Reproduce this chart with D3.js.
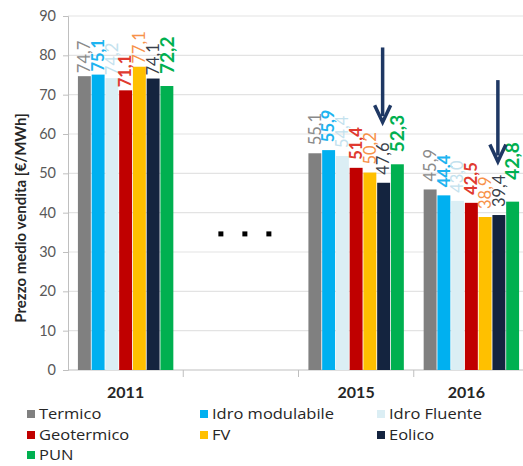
<!DOCTYPE html>
<html>
<head>
<meta charset="utf-8">
<script src="https://cdn.jsdelivr.net/npm/d3@7"></script>
<style>
  html, body { margin: 0; padding: 0; background: #fff; }
  svg { display: block; font-family: Lato, "Open Sans", sans-serif; }
</style>
</head>
<body>
<svg id="chart" width="523" height="466"></svg>
<script>
// ---- data ----
const categories = ["2011", "gap", "2015", "2016"];
const series = ["Termico", "Idro modulabile", "Idro Fluente", "Geotermico", "FV", "Eolico", "PUN"];
const termico        = [74.7, null, 55.1, 45.9];
const idroModulabile = [75.1, null, 55.9, 44.4];
const idroFluente    = [74.2, null, 54.4, 43.0];
const geotermico     = [71.1, null, 51.4, 42.5];
const fv             = [77.1, null, 50.2, 38.9];
const eolico         = [74.1, null, 47.6, 39.4];
const pun            = [72.2, null, 52.3, 42.8];
const yTicks = [0, 10, 20, 30, 40, 50, 60, 70, 80, 90];
// arrows: [category, from value, to value] pointing at Eolico bars
const arrowCats = ["2015", "2016"];
const arrowFrom = [82, 73.7];
const arrowTo   = [63, 53];

const values = [termico, idroModulabile, idroFluente, geotermico, fv, eolico, pun];
const barColors   = ["#808080", "#00b0f0", "#dbeef4", "#c00000", "#ffc000", "#14243f", "#00b050"];
const labelColors = ["#8a8a8a", "#1eb4f0", "#c4e2ee", "#e03a30", "#f7924a", "#3a3f4a", "#00b050"];
const labelWeights = ["normal", "bold", "normal", "bold", "normal", "normal", "bold"];

const svg = d3.select("#chart");
const m = { left: 68, top: 16, bottom: 370, right: 529 };

const x0 = d3.scaleBand().domain(categories).range([m.left, m.right]).padding(0);
const x1 = d3.scaleBand().domain(series).range([9.5, x0.bandwidth() - 9.5]).paddingInner(0.06).paddingOuter(0.03);
const y = d3.scaleLinear().domain([0, 90]).range([m.bottom, m.top]);

// gridlines
svg.append("g").selectAll("line").data(yTicks.filter(t => t > 0)).join("line")
  .attr("x1", m.left).attr("x2", 523)
  .attr("y1", d => y(d)).attr("y2", d => y(d))
  .attr("stroke", "#e3e3e3").attr("stroke-width", 1.2);

// y axis
const yAxis = svg.append("g").attr("transform", `translate(${m.left},0)`)
  .call(d3.axisLeft(y).tickValues(yTicks).tickSize(5).tickPadding(7));
yAxis.select(".domain").attr("stroke", "#bfbfbf");
yAxis.selectAll(".tick line").attr("stroke", "#bfbfbf");
yAxis.selectAll(".tick text").attr("fill", "#595959").attr("font-size", 14.5)
  .attr("font-family", "Lato, sans-serif");

// x axis
const xAxisG = svg.append("g").attr("transform", `translate(0,${m.bottom})`);
xAxisG.append("line").attr("x1", m.left).attr("x2", 523).attr("y1", 0).attr("y2", 0).attr("stroke", "#bfbfbf");
xAxisG.selectAll("line.tk").data(categories.slice(1)).join("line").attr("class", "tk")
  .attr("x1", d => x0(d)).attr("x2", d => x0(d)).attr("y1", 0).attr("y2", 7).attr("stroke", "#bfbfbf");
xAxisG.selectAll("text").data(categories.filter(c => c !== "gap")).join("text")
  .attr("x", d => x0(d) + x0.bandwidth() / 2 - (d === "2016" ? 5 : 0))
  .attr("y", 28).attr("text-anchor", "middle")
  .attr("font-size", 16).attr("font-weight", "bold").attr("fill", "#262626")
  .text(d => d);

// bars
const fmt = v => d3.format(".1f")(v).replace(".", ",");
const bars = [];
categories.forEach((c, ci) => {
  series.forEach((s, si) => {
    const v = values[si][ci];
    if (v !== null) bars.push({ c, s, si, v });
  });
});
svg.append("g").selectAll("rect").data(bars).join("rect")
  .attr("x", d => x0(d.c) + x1(d.s))
  .attr("y", d => y(d.v))
  .attr("width", x1.bandwidth())
  .attr("height", d => y(0) - y(d.v))
  .attr("fill", d => barColors[d.si]);

// value labels (rotated)
svg.append("g").selectAll("text").data(bars).join("text")
  .attr("transform", d => {
    const cx = x0(d.c) + x1(d.s) + x1.bandwidth() / 2;
    const gap = d.si === 6 ? (d.c === "2016" ? 22 : 12) : (d.c === "2011" ? 3 : 8);
    return `translate(${cx},${y(d.v) - gap}) rotate(-90)`;
  })
  .attr("dy", "0.35em")
  .attr("font-size", d => d.si === 6 ? 19 : 16.5)
  .attr("font-weight", d => labelWeights[d.si])
  .attr("fill", d => labelColors[d.si])
  .text(d => fmt(d.v));

// arrows
const arrows = arrowCats.map((c, i) => ({ c, from: arrowFrom[i], to: arrowTo[i] }));
const ag = svg.append("g");
arrows.forEach(a => {
  const cx = x0(a.c) + x1("Eolico") + x1.bandwidth() / 2 - 1;
  const yt = y(a.to);
  ag.append("line").attr("x1", cx).attr("x2", cx).attr("y1", y(a.from)).attr("y2", yt - 6)
    .attr("stroke", "#1f3864").attr("stroke-width", 3.5);
  ag.append("path")
    .attr("d", `M${cx - 8},${yt - 17} L${cx},${yt} L${cx + 8},${yt - 17}`)
    .attr("fill", "none").attr("stroke", "#1f3864").attr("stroke-width", 3.5)
    .attr("stroke-linejoin", "miter");
});

// ellipsis dots in the gap category
const dotVals = [-1, 0, 1];
svg.append("g").selectAll("rect").data(dotVals).join("rect")
  .attr("x", d => x0("gap") + x0.bandwidth() / 2 + 4 + d * 24 - 2.5)
  .attr("y", y(34.6) - 2.5).attr("width", 5).attr("height", 5).attr("fill", "#000");

// y axis title
svg.append("text")
  .attr("transform", `translate(21,218) rotate(-90)`)
  .attr("text-anchor", "middle").attr("dy", "0.35em")
  .attr("font-size", 15).attr("font-weight", "bold").attr("fill", "#262626")
  .text("Prezzo medio vendita [€/MWh]");

// legend
const legCols = [27, 200, 377];
const legRows = [414, 435, 455];
const lg = svg.append("g");
series.forEach((s, i) => {
  const lx = legCols[i % 3], ly = legRows[Math.floor(i / 3)];
  lg.append("rect").attr("x", lx).attr("y", ly - 4).attr("width", 8).attr("height", 8).attr("fill", barColors[i]);
  lg.append("text").attr("transform", `translate(${lx + 12},${ly}) scale(1.1,1)`).attr("dy", "0.35em")
    .attr("font-family", "'Open Sans', sans-serif")
    .attr("font-size", 15).attr("fill", "#262626").text(s);
});
</script>
</body>
</html>
